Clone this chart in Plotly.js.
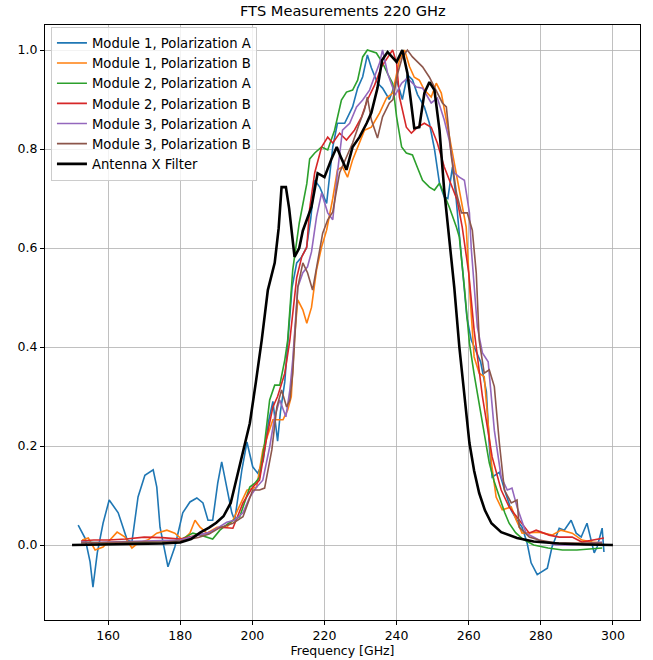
<!DOCTYPE html>
<html>
<head>
<meta charset="utf-8">
<script src="https://cdn.plot.ly/plotly-3.0.1.min.js"></script>
<style>html,body{margin:0;padding:0;background:#fff;} #chart{width:653px;height:660px;}</style>
</head>
<body>
<div id="chart"></div>
<script>
// Module 1, Polarization A
const m1aFreq = [151.7,153.6,155,155.8,157,158.6,160.3,162.8,165.3,166.6,168.3,170.2,172.5,173.5,174.4,176.6,178.5,180.7,182.7,184.6,186.3,187.7,189,190.4,191.5,192.9,194.3,195.1,197.1,198.5,200.1,201.5,203,204.5,205.7,207,207.8,209,210,211,212.3,213.5,215,216.2,217.3,218.7,220.6,222.3,223.6,225.6,227.8,229.2,230.6,231.9,233,234.7,236.1,238,240,241.6,243,244.4,245.8,247.7,249.1,250.5,251.9,253.2,254.2,255.5,256.5,258,259.5,260.7,262,263.3,264.9,265.8,266.5,268.5,270,271.8,273.4,274.8,276.2,277.3,279,281.8,283.1,285.1,286.5,288.4,289.8,291.2,292.8,294.8,295.6,297,297.5];
const m1aVal  = [0.04,0.014,-0.034,-0.085,-0.016,0.044,0.091,0.065,0.01,0.006,0.097,0.141,0.152,0.117,0.036,-0.044,-0.004,0.065,0.087,0.095,0.085,0.05,0.05,0.125,0.168,0.117,0.065,0.05,0.152,0.208,0.158,0.145,0.17,0.25,0.29,0.21,0.27,0.33,0.42,0.52,0.57,0.58,0.6,0.66,0.737,0.723,0.69,0.804,0.852,0.852,0.885,0.923,0.946,0.99,0.964,0.933,0.923,0.9,0.94,0.9,0.95,0.94,0.91,0.885,0.852,0.8,0.73,0.703,0.70,0.764,0.70,0.58,0.46,0.414,0.39,0.37,0.31,0.19,0.137,0.147,0.11,0.07,0.05,0.036,0.004,-0.036,-0.06,-0.047,-0.004,0.034,0.03,0.05,0.024,0.016,0.044,-0.016,-0.004,0.034,-0.014];

// Module 1, Polarization B
const m1bFreq = [152.8,154.5,156.4,158.6,160.5,162.5,164.7,166.6,168.3,171,173.5,176.3,178.5,180.7,182.7,184.1,185.5,187.4,190.2,192.9,194.6,196.5,198.5,201.2,202.9,205.7,206.8,208.5,209.8,210.8,211.7,212.6,214,215.1,216.4,217.8,219.2,220.6,222.3,223.6,225,226.4,227.8,229.2,231.1,233,235.3,237.2,238.9,240.8,242.2,243.6,244.9,246.3,247.7,249.6,251,252.4,253.8,255.2,256.6,258,259.3,260.4,261.5,262.9,264.3,266.3,267.6,269.3,271.8,273.2,274.8,279.5,283.1,285.6,288.7,291.4,294.2,297];
const m1bVal  = [0.01,0.014,-0.01,-0.004,0.01,0.026,0.016,-0.006,0.004,0.01,0.024,0.03,0.024,0.01,0.024,0.05,0.036,0.024,0.036,0.036,0.05,0.081,0.111,0.117,0.192,0.253,0.253,0.253,0.273,0.3,0.42,0.495,0.475,0.448,0.48,0.556,0.602,0.636,0.7,0.758,0.764,0.743,0.778,0.804,0.838,0.844,0.873,0.903,0.913,0.98,1.0,0.966,0.945,0.939,0.919,0.905,0.933,0.913,0.859,0.798,0.752,0.697,0.642,0.5,0.38,0.347,0.34,0.166,0.097,0.071,0.077,0.05,0.024,0.026,0.02,0.03,0.024,0.01,0.006,0.004];

// Module 2, Polarization A
const m2aFreq = [152.5,156,160,165,170,175,180,183.5,185.5,187.4,189,191,193.8,196.5,199.3,200.7,202,203.4,204.8,206.2,207.6,209,209.8,211.2,213,215.1,215.9,217.3,219.2,220.9,222.8,224.7,226.1,227.8,229.2,230.6,231.9,234.4,236.1,238,238.9,240,241.4,242.7,244.4,245.8,247.2,249.1,250.5,251.9,252.7,254.6,256.6,257.4,258.8,260.2,261.5,262.9,264.3,265.7,267,268.5,270,271.2,273,275,278,282,286,290,294,297];
const m2aVal  = [0.006,0.005,0.004,0.005,0.006,0.006,0.01,0.024,0.02,0.016,0.012,0.03,0.046,0.057,0.117,0.125,0.137,0.206,0.293,0.323,0.323,0.374,0.414,0.556,0.65,0.73,0.78,0.792,0.804,0.798,0.838,0.899,0.915,0.919,0.939,0.986,1.0,0.994,0.974,0.945,0.933,0.865,0.804,0.792,0.788,0.762,0.737,0.723,0.717,0.731,0.717,0.683,0.642,0.622,0.52,0.408,0.345,0.287,0.225,0.166,0.13,0.097,0.065,0.044,0.025,0.012,0.0,-0.006,-0.01,-0.01,-0.008,-0.006];

// Module 2, Polarization B
const m2bFreq = [152.5,156,160,165,170,175,180,185,188,191,194.6,197.4,200.1,202,204,205.7,207,209,210.4,212.3,213.7,215.1,215.9,217.3,219.2,220.9,222.3,224.2,226.1,228.3,230.3,231.9,233.9,235.8,237.5,238.9,240,240.8,242.7,244.1,245.8,247.7,249.6,251.3,253.2,255.5,256.8,258.2,260,261.5,263.8,266.5,269,271.2,273.4,276.8,278.7,282.3,285.1,288.7,291.4,294.2,297.5];
const m2bVal  = [0.008,0.01,0.01,0.012,0.016,0.015,0.012,0.02,0.025,0.036,0.034,0.085,0.117,0.131,0.218,0.279,0.3,0.347,0.414,0.54,0.582,0.602,0.68,0.752,0.804,0.824,0.812,0.832,0.818,0.838,0.865,0.899,0.929,0.966,0.985,1.0,0.974,0.905,0.844,0.832,0.844,0.852,0.844,0.812,0.764,0.723,0.697,0.642,0.55,0.434,0.3,0.178,0.111,0.077,0.057,0.024,0.03,0.02,0.016,0.016,0.006,0.01,0.014];

// Module 3, Polarization A
const m3aFreq = [152.5,156,160,165,170,175,180,185,188,190.5,192.9,195,197.4,199.3,201.2,202.9,204.8,206.2,207.6,209.3,210.4,211.2,212.6,214,215.3,216.4,217.8,219.2,220.9,222.3,223.6,225,227,228.9,230.6,232.5,233.9,235.3,236.1,237.5,238.9,239.6,241.4,243,245.5,247.2,249.6,251.3,253.2,254.6,256,257.4,258.8,260.2,260.7,262.4,263.8,265.4,267.1,269,270.7,272,273.4,275.9,279.5,284.2,288.7,293.4,297];
const m3aVal  = [0.006,0.005,0.006,0.007,0.008,0.008,0.01,0.02,0.025,0.035,0.046,0.05,0.065,0.097,0.117,0.131,0.198,0.259,0.293,0.259,0.313,0.374,0.521,0.55,0.562,0.592,0.663,0.711,0.671,0.657,0.752,0.838,0.852,0.885,0.899,0.919,0.946,0.974,1.0,0.953,0.925,0.909,0.933,0.943,0.925,0.923,0.893,0.903,0.859,0.818,0.752,0.743,0.737,0.671,0.6,0.44,0.388,0.37,0.232,0.137,0.111,0.115,0.077,0.024,0.01,0.0,0.0,0.004,0.006];

// Module 3, Polarization B
const m3bFreq = [152.5,156,160,165,170,175,180,185,188,191,194.6,197.4,200.1,202,203.4,205.4,206.8,208.1,209.5,210.4,211.2,212.6,214,215.3,216.7,218.1,219.5,220.9,222.3,224.2,226.1,227.8,229.7,231.1,231.9,233,234.7,236.1,238,239,240.2,241.6,243,244.4,245.8,247.2,249.1,251,252.7,253.8,255.2,256.6,258,259.6,261,262.1,262.9,264.3,265.7,267.1,268.5,269.9,271.8,273.4,274,276.8,279.5,284.2,288.7,293.4,297];
const m3bVal  = [0.004,0.004,0.005,0.006,0.006,0.006,0.008,0.015,0.022,0.035,0.044,0.057,0.111,0.111,0.115,0.192,0.279,0.313,0.279,0.293,0.347,0.521,0.57,0.55,0.515,0.57,0.63,0.657,0.673,0.752,0.784,0.812,0.852,0.879,0.905,0.859,0.822,0.865,0.893,0.9,0.95,0.986,1.0,0.986,0.976,0.966,0.945,0.919,0.893,0.885,0.784,0.711,0.671,0.671,0.636,0.549,0.414,0.347,0.354,0.32,0.206,0.111,0.085,0.091,0.036,0.016,0.01,0.004,0.004,0.004,0.004];

// Antenna X Filter
const filtFreq = [150,160,170,175,180,183,185.5,188,190,192,194,196.5,199.3,201,202.6,204.3,206.2,207.3,208.1,209.3,210.2,211.7,213,214,215.3,216.4,218.1,220,222,223.4,224.7,226.1,227.8,229.7,231.7,233,234.7,236,237.5,238.9,240,241.6,243,244.9,246.3,247.7,249.1,250.5,251.9,253.2,254.6,256,257.4,258.8,260.2,261.5,262.9,264.5,266.3,269,273.4,278,285,292,300];
const filtVal  = [0.0,0.001,0.002,0.003,0.005,0.012,0.025,0.035,0.045,0.058,0.085,0.16,0.246,0.33,0.414,0.515,0.57,0.64,0.723,0.723,0.68,0.582,0.6,0.635,0.66,0.683,0.751,0.743,0.781,0.804,0.781,0.758,0.804,0.824,0.852,0.873,0.923,0.98,0.996,0.984,0.976,1.0,0.953,0.842,0.844,0.913,0.935,0.919,0.838,0.717,0.616,0.52,0.4,0.3,0.206,0.15,0.105,0.07,0.044,0.026,0.014,0.007,0.003,0.001,0.0];

const names = ["Module 1, Polarization A","Module 1, Polarization B","Module 2, Polarization A","Module 2, Polarization B","Module 3, Polarization A","Module 3, Polarization B","Antenna X Filter"];
const colors = ["#1f77b4","#ff7f0e","#2ca02c","#d62728","#9467bd","#8c564b","#000000"];
const xs = [m1aFreq,m1bFreq,m2aFreq,m2bFreq,m3aFreq,m3bFreq,filtFreq];
const ys = [m1aVal,m1bVal,m2aVal,m2bVal,m3aVal,m3bVal,filtVal];
const xTicks = [160,180,200,220,240,260,280,300];
const yTicks = [0.0,0.2,0.4,0.6,0.8,1.0];

const traces = xs.map((x,i)=>({
  x: x, y: ys[i], name: names[i], type: 'scatter', mode: 'lines',
  line: {color: colors[i], width: i===6 ? 2.6 : 1.6}
}));

const font = {family: "DejaVu Sans, sans-serif", size: 12.5, color: "#000"};
const layout = {
  width: 653, height: 660,
  margin: {l: 45, r: 13, t: 25, b: 40},
  paper_bgcolor: "#fff", plot_bgcolor: "#fff",
  font: font,
  title: {text: "FTS Measurements 220 GHz", font: {family: "DejaVu Sans, sans-serif", size: 14.6, color: "#000"}, x: 0.525, xanchor: "center", yref: "container", y: 1 - 11/660, yanchor: "middle"},
  xaxis: {
    range: [142.5, 307.5], tickvals: xTicks, ticktext: xTicks.map(String),
    showgrid: true, gridcolor: "#b0b0b0", gridwidth: 0.8, zeroline: false,
    showline: true, mirror: true, linecolor: "#000", linewidth: 1,
    ticks: "outside", ticklen: 4, tickcolor: "#000",
    title: {text: "Frequency [GHz]", font: font, standoff: 4}
  },
  yaxis: {
    range: [-0.1515, 1.0505], tickvals: yTicks, ticktext: yTicks.map(v=>v.toFixed(1)),
    showgrid: true, gridcolor: "#b0b0b0", gridwidth: 0.8, zeroline: false,
    showline: true, mirror: true, linecolor: "#000", linewidth: 1,
    ticks: "outside", ticklen: 4, tickcolor: "#000"
  },
  legend: {x: 0.01, y: 0.997, xanchor: "left", yanchor: "top", bgcolor: "rgba(255,255,255,0.8)", bordercolor: "#cccccc", borderwidth: 1, font: {family: "DejaVu Sans, sans-serif", size: 13.2, color: "#000"}, itemwidth: 30, tracegroupgap: 0},
  showlegend: true
};
Plotly.newPlot("chart", traces, layout, {displayModeBar: false, staticPlot: true});
</script>
</body>
</html>
